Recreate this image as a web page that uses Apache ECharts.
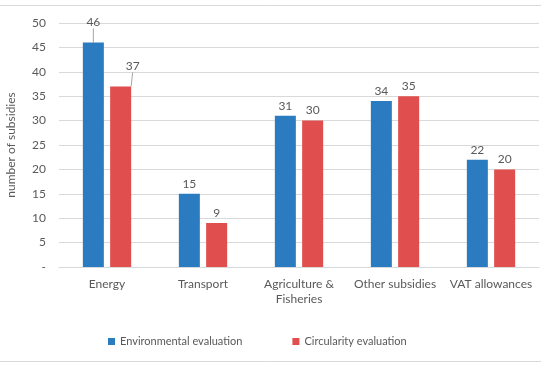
<!DOCTYPE html>
<html><head><meta charset="utf-8">
<script src="https://cdn.jsdelivr.net/npm/echarts@6/dist/echarts.min.js"></script>
<style>html,body{margin:0;padding:0;background:#fff}#c{width:550px;height:366px}</style>
</head><body><div id="c"></div>
<script>
var categories = ['Energy', 'Transport', 'Agriculture &\nFisheries', 'Other subsidies', 'VAT allowances'];
var environmental = [46, 15, 31, 34, 22];
var circularity = [37, 9, 30, 35, 20];
var seriesNames = ['Environmental evaluation', 'Circularity evaluation'];
var yTicks = [0, 5, 10, 15, 20, 25, 30, 35, 40, 45, 50];

var FONT = 'Lato';
var TXT = '#595959';
var FS = 12;
function withLeader(values, idx) {
  return values.map(function (v, i) {
    return i === idx ? {value: v, labelLine: {show: true}} : v;
  });
}
var chart = echarts.init(document.getElementById('c'), null, {renderer: 'canvas'});
chart.setOption({
  animation: false,
  textStyle: {fontFamily: FONT},
  grid: {left: 59, right: 11, top: 23, bottom: 99, containLabel: false, outerBoundsMode: 'none'},
  legend: {
    bottom: 14, left: 103, itemGap: 50, itemWidth: 7, itemHeight: 7, icon: 'rect',
    textStyle: {color: TXT, fontSize: 11, fontFamily: FONT},
    data: seriesNames
  },
  graphic: [
    {type: 'line', shape: {x1: 0, y1: 5.5, x2: 541, y2: 5.5}, style: {stroke: '#d9d9d9', lineWidth: 1}},
    {type: 'line', shape: {x1: 0, y1: 361.5, x2: 541, y2: 361.5}, style: {stroke: '#d9d9d9', lineWidth: 1}}
  ],
  xAxis: {
    type: 'category', data: categories,
    axisTick: {show: false},
    axisLine: {lineStyle: {color: '#d9d9d9'}},
    axisLabel: {color: TXT, fontSize: FS, margin: 10, lineHeight: 15, interval: 0}
  },
  yAxis: {
    type: 'value', min: yTicks[0], max: yTicks[yTicks.length - 1], interval: 5,
    name: 'number of subsidies', nameLocation: 'middle', nameGap: 42, nameRotate: 90,
    nameTextStyle: {color: TXT, fontSize: FS},
    axisLine: {show: false}, axisTick: {show: false},
    splitLine: {lineStyle: {color: '#d9d9d9'}},
    axisLabel: {color: TXT, fontSize: FS, margin: 13,
      formatter: function (v) { return v === 0 ? '-' : String(v); }}
  },
  series: [
    {
      name: seriesNames[0], type: 'bar', data: withLeader(environmental, 0), barWidth: 21, barGap: '30%',
      itemStyle: {color: '#2b7bc0'},
      label: {show: true, position: 'top', distance: 4, color: TXT, fontSize: FS},
      labelLine: {show: false, lineStyle: {color: '#a6a6a6', width: 1}},
      labelLayout: function (p) { return p.dataIndex === 0 ? {dy: -10} : {}; }
    },
    {
      name: seriesNames[1], type: 'bar', data: withLeader(circularity, 0), barWidth: 21,
      itemStyle: {color: '#e04e4e'},
      label: {show: true, position: 'top', distance: 4, color: TXT, fontSize: FS},
      labelLine: {show: false, lineStyle: {color: '#a6a6a6', width: 1}},
      labelLayout: function (p) { return p.dataIndex === 0 ? {dy: -10, dx: 12} : {}; }
    }
  ]
});
</script></body></html>
